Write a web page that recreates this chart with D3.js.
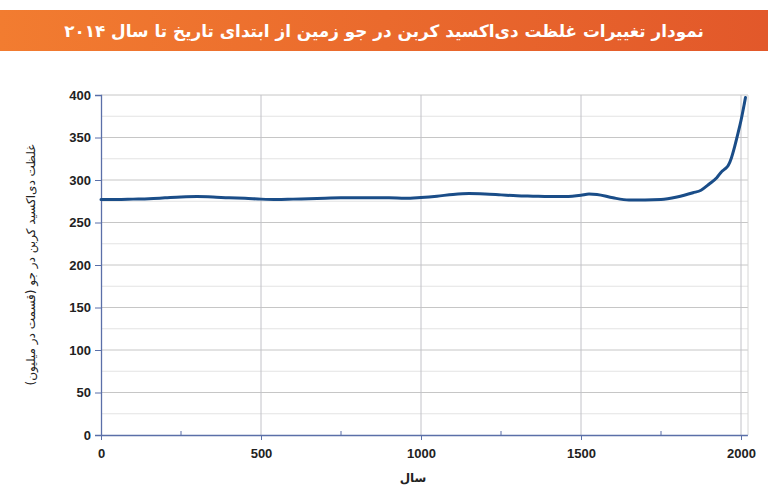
<!DOCTYPE html>
<html><head><meta charset="utf-8">
<script src="https://cdn.jsdelivr.net/npm/d3@7"></script>
<style>
body{margin:0;background:#fff;}
svg{display:block;}
</style></head>
<body>
<svg id="c" width="768" height="495"></svg>
<script>
const titleText = "نمودار تغییرات غلظت دی‌اکسید کربن در جو زمین از ابتدای تاریخ تا سال ۲۰۱۴";
const yTitle = "غلظت دی‌اکسید کربن در جو (قسمت در میلیون)";
const xTitle = "سال";
const years = [0,50,100,150,200,250,300,350,400,450,500,550,600,650,700,750,800,850,900,950,1000,1050,1100,1150,1200,1250,1300,1350,1400,1450,1500,1525,1550,1600,1650,1700,1750,1800,1850,1875,1900,1925,1940,1950,1960,1970,1980,1990,2000,2010,2014];
const ppm   = [277,277,277.5,278,279,280,280.5,280,279,278.5,277.5,277,277.5,278,278.5,279,279,279,279,278.5,279.5,281,283,284,283.5,282.5,281.5,281,280.5,280.5,282,283.5,283,279,276.5,276.5,277,280,285,288,295,303,310,313,317,326,339,354,370,389,397];
const xTicks = [0,500,1000,1500,2000];
const xMinor = [250,750,1250,1750];
const yTicks = [0,50,100,150,200,250,300,350,400];
const yMinor = [25,75,125,175,225,275,325,375];

const svg = d3.select("#c");
const defs = svg.append("defs");
const g = defs.append("linearGradient").attr("id","bg").attr("x1","0").attr("x2","1").attr("y1","0").attr("y2","0");
g.append("stop").attr("offset","0").attr("stop-color","#f27c30");
g.append("stop").attr("offset","1").attr("stop-color","#e2582a");
svg.append("rect").attr("x",0).attr("y",10).attr("width",768).attr("height",41).attr("fill","url(#bg)");
const tt = svg.append("text").attr("x",384).attr("y",37).attr("text-anchor","middle")
  .attr("direction","rtl").attr("font-family","DejaVu Sans").attr("font-weight","bold")
  .attr("font-size",19).attr("fill","#fff").text(titleText);
const nat = tt.node().getComputedTextLength();
tt.attr("font-size", 19 * 640 / nat);

const x = d3.scaleLinear().domain([0,2020]).range([101,747.4]);
const y = d3.scaleLinear().domain([0,400]).range([435,95]);

// grid
svg.append("g").selectAll("line").data(yMinor).join("line")
  .attr("x1",101).attr("x2",748).attr("y1",d=>y(d)).attr("y2",d=>y(d))
  .attr("stroke","#e3e3e3").attr("stroke-width",1);
svg.append("g").selectAll("line").data(yTicks.filter(d=>d>0)).join("line")
  .attr("x1",101).attr("x2",748).attr("y1",d=>y(d)).attr("y2",d=>y(d))
  .attr("stroke","#c6c6c6").attr("stroke-width",1);
svg.append("g").selectAll("line").data(xTicks.filter(d=>d>0)).join("line")
  .attr("x1",d=>x(d)).attr("x2",d=>x(d)).attr("y1",95).attr("y2",435)
  .attr("stroke","#c2c2c8").attr("stroke-width",1);
svg.append("line").attr("x1",748).attr("x2",748).attr("y1",95).attr("y2",435).attr("stroke","#d6d6d6");

// axes
const axisColor = "#5a6fa8";
const ya = svg.append("g").attr("transform","translate(101,0)")
  .call(d3.axisLeft(y).tickValues(yTicks).tickSize(6).tickPadding(4));
ya.select(".domain").attr("stroke",axisColor).attr("stroke-width",1.3);
ya.selectAll(".tick line").attr("stroke",axisColor);
ya.selectAll("text").attr("font-family","Liberation Sans").attr("font-weight","bold").attr("font-size",13).attr("fill","#222");

const xa = svg.append("g").attr("transform","translate(0,435)")
  .call(d3.axisBottom(x).tickValues(xTicks).tickFormat(d3.format("d")).tickSizeInner(5).tickSizeOuter(0).tickPadding(9));
xa.select(".domain").attr("stroke",axisColor).attr("stroke-width",1.3);
xa.selectAll(".tick line").attr("stroke",axisColor);
xa.selectAll("text").attr("font-family","Liberation Sans").attr("font-weight","bold").attr("font-size",13).attr("fill","#222");
svg.append("g").selectAll("line").data(xMinor).join("line")
  .attr("x1",d=>x(d)).attr("x2",d=>x(d)).attr("y1",435).attr("y2",431)
  .attr("stroke",axisColor);

// line
const pts = years.map((yr,i)=>[yr,ppm[i]]);
svg.append("path").datum(pts)
  .attr("d",d3.line().x(d=>x(d[0])).y(d=>y(d[1])).curve(d3.curveMonotoneX))
  .attr("fill","none").attr("stroke","#1a4d88").attr("stroke-width",3).attr("stroke-linejoin","round").attr("stroke-linecap","round");

// titles
svg.append("text").attr("transform","translate(35,265) rotate(-90)").attr("text-anchor","middle")
  .attr("direction","rtl").attr("font-family","DejaVu Sans").attr("font-size",12).attr("fill","#222").text(yTitle);
svg.append("text").attr("x",413).attr("y",482).attr("text-anchor","middle")
  .attr("direction","rtl").attr("font-family","DejaVu Sans").attr("font-weight","bold").attr("font-size",12).attr("fill","#222").text(xTitle);
</script>
</body></html>
